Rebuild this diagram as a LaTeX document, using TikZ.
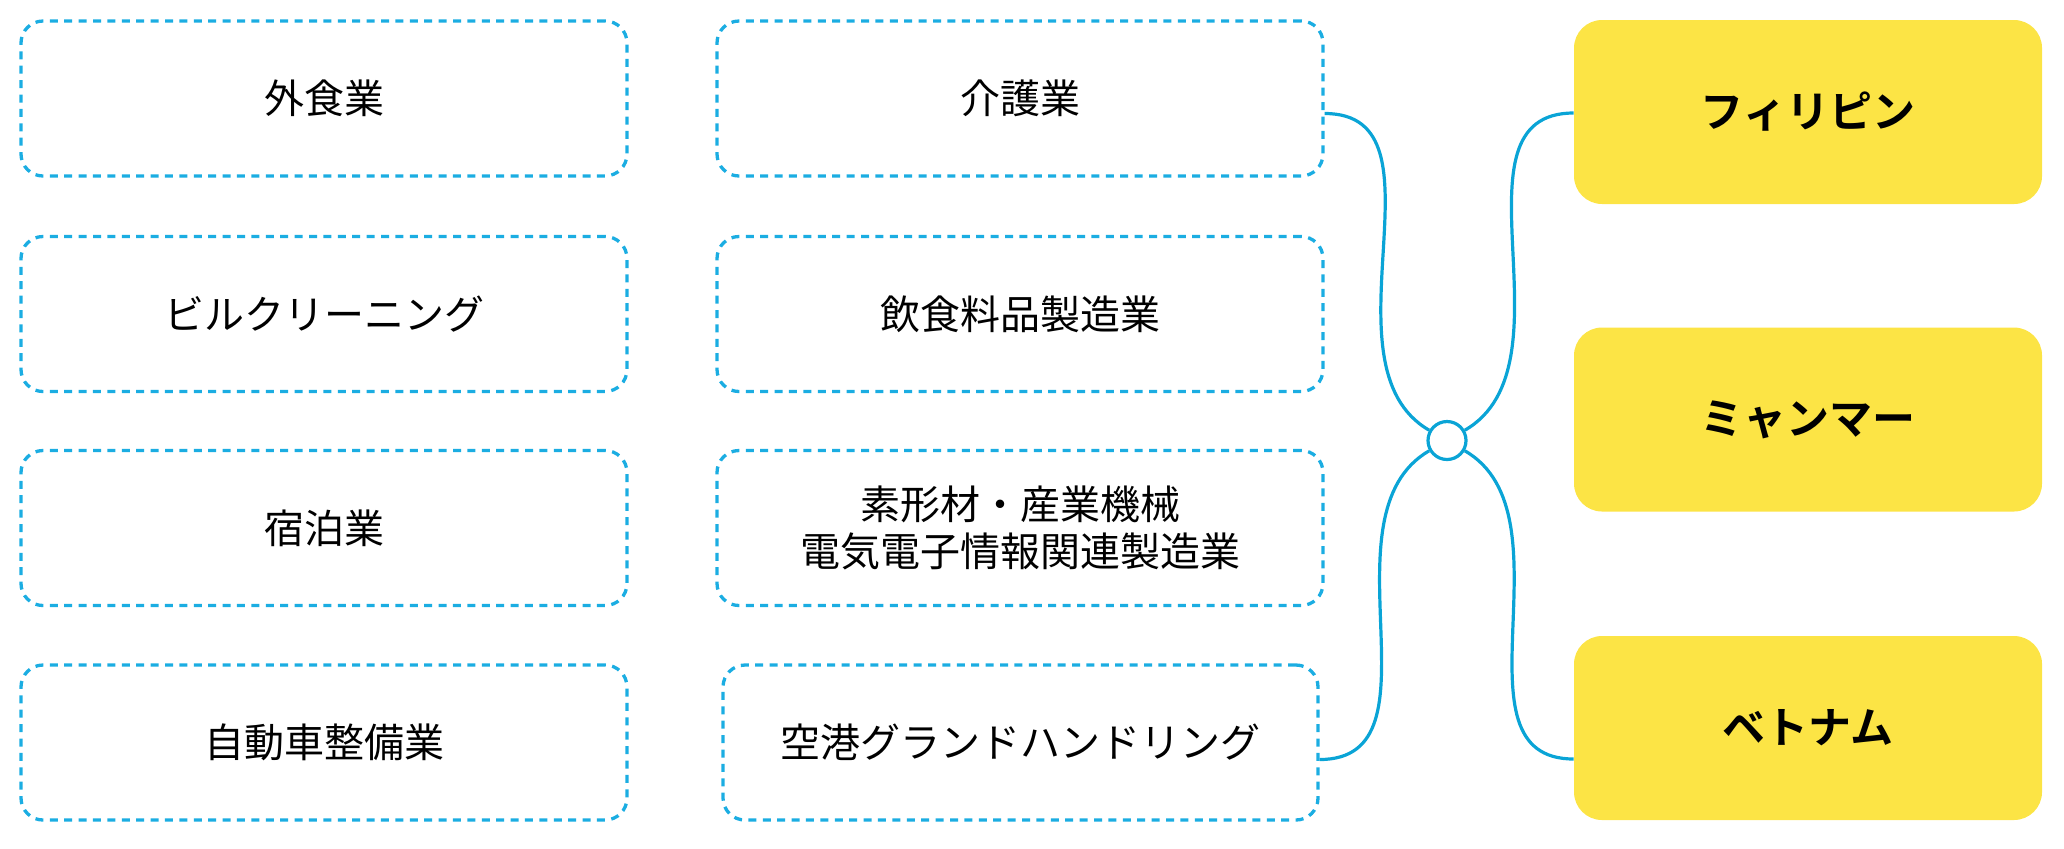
\documentclass[tikz,border=0pt]{standalone}
\usepackage{fontspec}
\newfontfamily\jp{Noto Sans CJK JP}
\newfontfamily\jpbold{Noto Sans CJK JP Bold}
\definecolor{dashblue}{HTML}{1BADE2}
\definecolor{linkblue}{HTML}{0AA4D6}
\definecolor{ylw}{HTML}{FCE445}
\tikzset{
  indbox/.style={draw=dashblue, line width=1.65pt, dash pattern=on 4pt off 3.2pt,
    rounded corners=11pt, minimum width=303pt, minimum height=77.5pt, inner sep=0pt,
    font=\jp\fontsize{20pt}{23.5pt}\selectfont, align=center, text=black},
  cbox/.style={fill=ylw, rounded corners=14pt, minimum width=234pt, minimum height=92pt,
    inner sep=0pt, font=\jpbold\fontsize{21.5pt}{25pt}\selectfont, text=black},
  hub/.style={circle, draw=linkblue, line width=1.6pt, fill=white, minimum size=19pt, inner sep=0pt},
  link/.style={draw=linkblue, line width=1.6pt},
}
\begin{document}
\begin{tikzpicture}[x=0.5pt,y=-0.5pt]
\useasboundingbox (0,0) rectangle (2064,848);
% left column
\node[indbox] (l1) at (324,98.5) {外食業};
\node[indbox] (l2) at (324,314) {ビルクリーニング};
\node[indbox] (l3) at (324,528) {宿泊業};
\node[indbox] (l4) at (324,742.5) {自動車整備業};
% middle column
\node[indbox] (m1) at (1020,98.5) {介護業};
\node[indbox] (m2) at (1020,314) {飲食料品製造業};
\node[indbox] (m3) at (1020,528) {素形材・産業機械\\電気電子情報関連製造業};
\node[indbox, minimum width=297.5pt] (m4) at (1020.5,742.5) {空港グランドハンドリング};
% countries
\node[cbox] (y1) at (1808,112) {フィリピン};
\node[cbox] (y2) at (1808,419.5) {ミャンマー};
\node[cbox] (y3) at (1808,728) {ベトナム};
% hub
\node[hub] (c) at (1447,440.5) {};
\coordinate (a1) at ([yshift=-7.5pt]m1.east);
\coordinate (a4) at ([yshift=-8.5pt]m4.east);
\coordinate (b1) at ([yshift=-0.5pt]y1.west);
\coordinate (b3) at ([yshift=-15.5pt]y3.west);
\draw[link] (a1) to[out=0,in=150] (c.150);
\draw[link] (a4) to[out=0,in=210] (c.210);
\draw[link] (c.30) to[out=30,in=180] (b1);
\draw[link] (c.-30) to[out=-30,in=180] (b3);
\end{tikzpicture}
\end{document}
